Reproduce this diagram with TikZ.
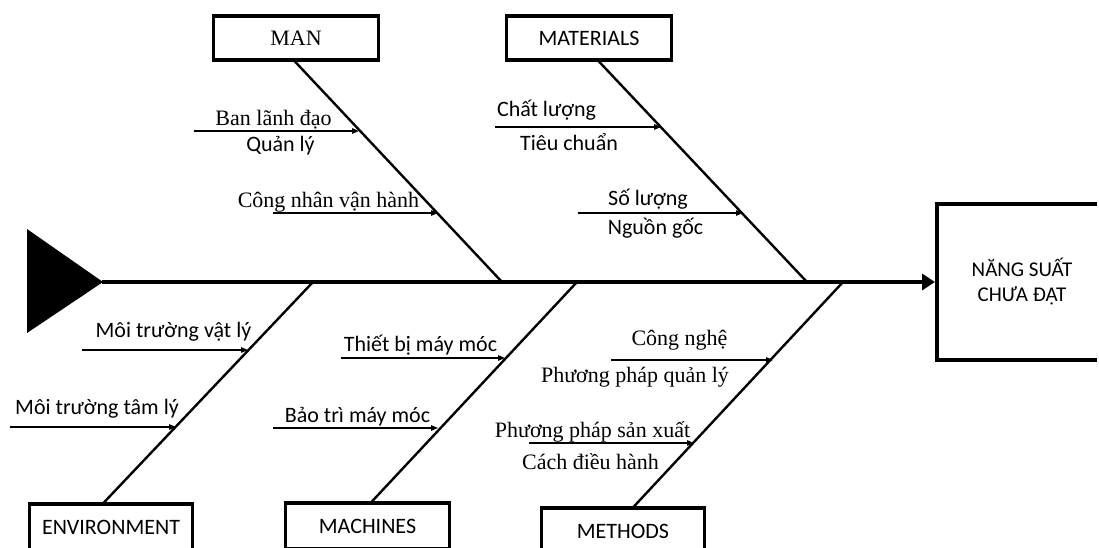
\documentclass[tikz,border=0pt]{standalone}
\usepackage{fontspec}
\setmainfont{Liberation Serif}
\newfontfamily\calfont{Carlito}
\usetikzlibrary{arrows.meta,calc}
\begin{document}
\begin{tikzpicture}[x=1pt,y=-1pt,
  catbox/.style={draw,line width=3.2pt,minimum width=#1,minimum height=44pt,inner sep=0pt},
  serf/.style={font=\fontsize{22}{26}\selectfont,inner sep=0pt},
  sanf/.style={font=\calfont\fontsize{22}{26}\selectfont,inner sep=0pt},
  bone/.style={line width=2.4pt},
  sub/.style={line width=1.3pt,-{Triangle[length=7pt,width=5.5pt]}},
  spine/.style={line width=4.5pt,-{Triangle[length=13pt,width=16pt]}}]
\useasboundingbox (0,0) rectangle (1099,547);
\begin{scope}
\clip (0,0) rectangle (1099,547);

% head triangle
\fill (27,229) -- (103,282) -- (27,333) -- cycle;
\coordinate (tail) at (102,282);

% effect box (open at the right: it runs past the picture edge)
\node[align=center,inner sep=0pt,
      font=\calfont\fontsize{21}{25}\selectfont] (eff) at (1022,282) {NĂNG SUẤT\\CHƯA ĐẠT};
\draw[line width=4pt] (1097,204) -| (937,360) -- (1097,360);
\coordinate (effw) at (935,282);

% category boxes
\node[catbox=165pt,serf] (man) at (296,38) {MAN};
\node[catbox=165pt,sanf] (mat) at (589,38) {MATERIALS};
\node[catbox=163pt,sanf,minimum height=46pt] (env) at (111,527) {ENVIRONMENT};
\node[catbox=164pt,sanf,minimum height=46pt] (mac) at (367.5,526) {MACHINES};
\node[catbox=163pt,sanf,minimum height=46pt] (met) at (623,531) {METHODS};

% spine junctions
\coordinate (jman) at (502,282);
\coordinate (jmat) at (807,282);
\coordinate (jenv) at (313,282);
\coordinate (jmac) at (577,282);
\coordinate (jmet) at (843,282);

% spine
\draw[spine] (tail) -- (effw);

% bones
\draw[bone] ([xshift=-1pt]man.south) -- (jman);
\draw[bone] ([xshift=10pt]mat.south) -- (jmat);
\draw[bone] ([xshift=-7pt]env.north) -- (jenv);
\draw[bone] ([xshift=4.5pt]mac.north) -- (jmac);
\draw[bone] ([xshift=11pt]met.north) -- (jmet);

% sub-cause arrows
\coordinate (a1s) at (194,131); \coordinate (a1e) at (359,131);
\coordinate (a2s) at (273,213); \coordinate (a2e) at (438,213);
\coordinate (a3s) at (495,127); \coordinate (a3e) at (661,127);
\coordinate (a4s) at (578,213); \coordinate (a4e) at (743,213);
\coordinate (a5s) at (82,350);  \coordinate (a5e) at (248,350);
\coordinate (a6s) at (10,427);  \coordinate (a6e) at (176,427);
\coordinate (a7s) at (341,358); \coordinate (a7e) at (505,358);
\coordinate (a8s) at (273,428); \coordinate (a8e) at (438,428);
\coordinate (a9s) at (611,360); \coordinate (a9e) at (773,360);
\coordinate (a10s) at (529,443); \coordinate (a10e) at (694,443);
\foreach \i in {1,...,10} \draw[sub] (a\i s) -- (a\i e);

% labels
\node[serf] (t1) at (273.5,120) {Ban lãnh đạo};
\node[sanf] (t2) at (280.5,146) {Quản lý};
\node[serf] (t3) at (328.5,202) {Công nhân vận hành};
\node[sanf] (t4) at (546.5,110) {Chất lượng};
\node[sanf] (t5) at (569,142) {Tiêu chuẩn};
\node[sanf] (t6) at (648,199) {Số lượng};
\node[sanf] (t7) at (655.5,228) {Nguồn gốc};
\node[sanf] (t8) at (173.5,332) {Môi trường vật lý};
\node[sanf] (t9) at (97,409) {Môi trường tâm lý};
\node[sanf] (t10) at (420.5,345) {Thiết bị máy móc};
\node[sanf] (t11) at (357.5,417) {Bảo trì máy móc};
\node[serf] (t12) at (679.5,340) {Công nghệ};
\node[serf] (t13) at (635,377) {Phương pháp quản lý};
\node[serf] (t14) at (592.5,432) {Phương pháp sản xuất};
\node[serf] (t15) at (590.5,462) {Cách điều hành};
\end{scope}
\end{tikzpicture}
\end{document}
